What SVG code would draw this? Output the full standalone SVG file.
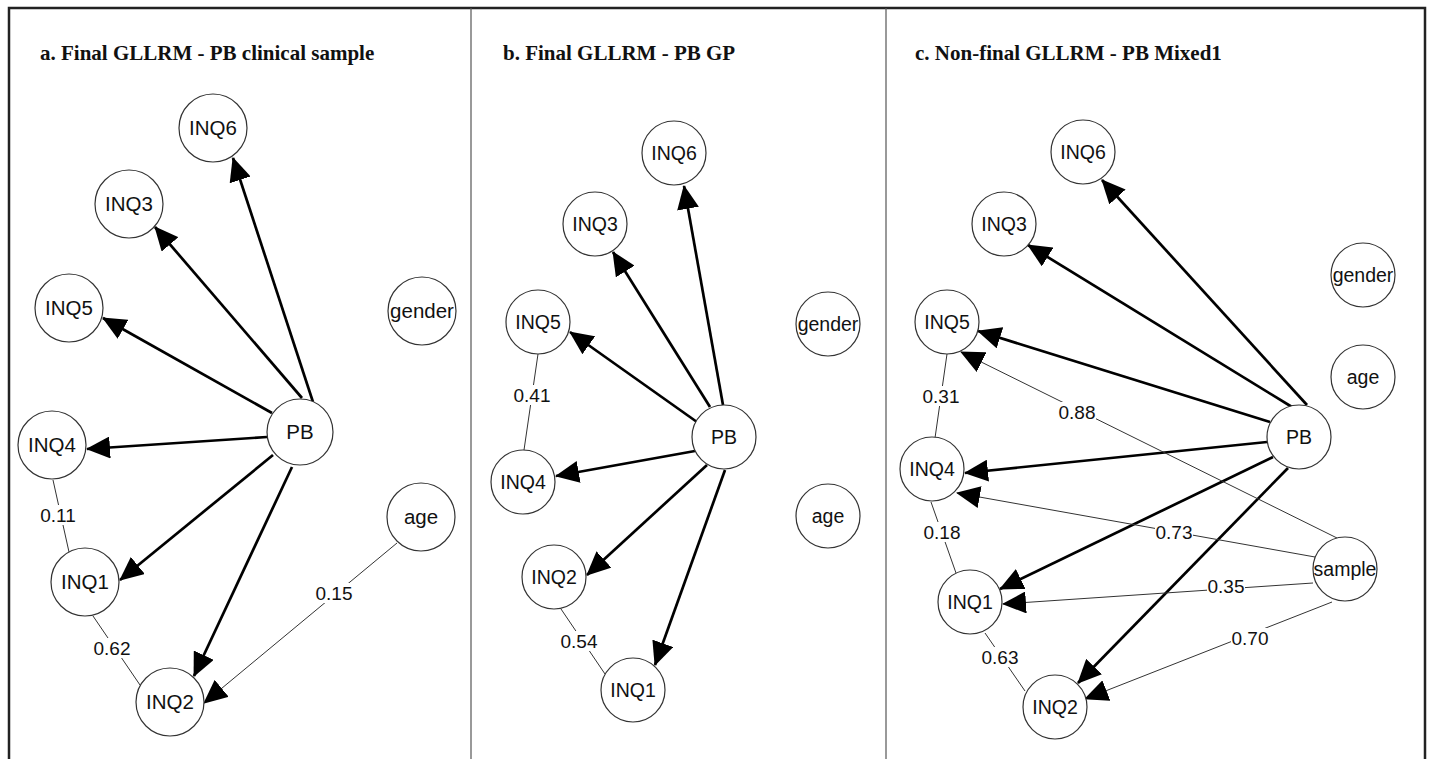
<svg xmlns="http://www.w3.org/2000/svg" width="1430" height="759" viewBox="0 0 1430 759">
<defs>
<marker id="arr" viewBox="0 0 24 22" refX="23" refY="11" markerWidth="24" markerHeight="22" orient="auto" markerUnits="userSpaceOnUse"><path d="M0,0 L24,11 L0,22 z" fill="#000"/></marker>
<style>
.frame{stroke:#222;stroke-width:2.5;fill:none}
.divider{stroke:#555;stroke-width:1.2;fill:none}
.title{font-family:"Liberation Serif","Times New Roman",serif;font-weight:bold;font-size:21px;fill:#111}
.node circle{fill:#fff;stroke:#333;stroke-width:1.2}
.node text{font-family:"Liberation Sans",Arial,sans-serif;text-anchor:middle;fill:#111}
.pa text{font-size:20.5px}
.pb text,.pc text{font-size:19.5px}
.thick{stroke:#000;stroke-width:2.7;fill:none;marker-end:url(#arr)}
.thin{stroke:#333;stroke-width:1;fill:none}
.thinarr{stroke:#333;stroke-width:1;fill:none;marker-end:url(#arr)}
.lbl rect{fill:#fff}
.lbl text{font-family:"Liberation Sans",Arial,sans-serif;font-size:19px;text-anchor:middle;fill:#111}
</style>
</defs>
<rect width="1430" height="759" fill="#fff"/>
<g id="frame">
<path class="frame" d="M9,759 V8 H1425 V759"/>
<line class="divider" x1="471" y1="8" x2="471" y2="759"/>
<line class="divider" x1="886" y1="8" x2="886" y2="759"/>
</g>
<g id="titles">
<text class="title" x="40" y="60">a. Final GLLRM - PB clinical sample</text>
<text class="title" x="503" y="60">b. Final GLLRM - PB GP</text>
<text class="title" x="915" y="60">c. Non-final GLLRM - PB Mixed1</text>
</g>
<g id="connectors">
<!-- panel a -->
<line class="thick" x1="313" y1="402" x2="233" y2="158"/>
<line class="thick" x1="302" y1="398" x2="155" y2="227"/>
<line class="thick" x1="272" y1="413" x2="103" y2="318"/>
<line class="thick" x1="267" y1="437" x2="87" y2="449"/>
<line class="thick" x1="273" y1="455" x2="120" y2="580"/>
<line class="thick" x1="292" y1="467" x2="194" y2="676"/>
<line class="thinarr" x1="397" y1="543" x2="204" y2="703"/>
<line class="thin" x1="53" y1="480" x2="69" y2="552"/>
<line class="thin" x1="93" y1="616" x2="140" y2="685"/>
<!-- panel b -->
<line class="thick" x1="723" y1="405" x2="684" y2="186"/>
<line class="thick" x1="710" y1="407" x2="613" y2="252"/>
<line class="thick" x1="697" y1="422" x2="570" y2="332"/>
<line class="thick" x1="695" y1="451" x2="556" y2="476"/>
<line class="thick" x1="707" y1="465" x2="587" y2="575"/>
<line class="thick" x1="725" y1="470" x2="655" y2="665"/>
<line class="thin" x1="538" y1="354" x2="524" y2="450"/>
<line class="thin" x1="561" y1="609" x2="605" y2="674"/>
<!-- panel c -->
<line class="thick" x1="1307" y1="405" x2="1102" y2="180"/>
<line class="thick" x1="1292" y1="407" x2="1028" y2="245"/>
<line class="thick" x1="1270" y1="422" x2="978" y2="331"/>
<line class="thick" x1="1267" y1="442" x2="965" y2="473"/>
<line class="thick" x1="1273" y1="457" x2="1000" y2="589"/>
<line class="thick" x1="1288" y1="468" x2="1078" y2="683"/>
<line class="thinarr" x1="1337" y1="538" x2="961" y2="352"/>
<line class="thinarr" x1="1315" y1="557" x2="957" y2="493"/>
<line class="thinarr" x1="1313" y1="583" x2="1003" y2="604"/>
<line class="thinarr" x1="1332" y1="602" x2="1085" y2="699"/>
<line class="thin" x1="947" y1="354" x2="935" y2="438"/>
<line class="thin" x1="931" y1="502" x2="956" y2="573"/>
<line class="thin" x1="985" y1="633" x2="1025" y2="691"/>
<!-- edge labels -->
<g class="lbl"><rect x="39" y="505" width="38" height="20"/><text x="58" y="522">0.11</text></g>
<g class="lbl"><rect x="93" y="638" width="38" height="20"/><text x="112" y="655">0.62</text></g>
<g class="lbl"><rect x="315" y="583" width="38" height="20"/><text x="334" y="600">0.15</text></g>
<g class="lbl"><rect x="513" y="385" width="38" height="20"/><text x="532" y="402">0.41</text></g>
<g class="lbl"><rect x="560" y="631" width="38" height="20"/><text x="579" y="648">0.54</text></g>
<g class="lbl"><rect x="922" y="386" width="38" height="20"/><text x="941" y="403">0.31</text></g>
<g class="lbl"><rect x="1058" y="402" width="38" height="20"/><text x="1077" y="419">0.88</text></g>
<g class="lbl"><rect x="923" y="522" width="38" height="20"/><text x="942" y="539">0.18</text></g>
<g class="lbl"><rect x="1155" y="522" width="38" height="20"/><text x="1174" y="539">0.73</text></g>
<g class="lbl"><rect x="1207" y="576" width="38" height="20"/><text x="1226" y="593">0.35</text></g>
<g class="lbl"><rect x="1231" y="628" width="38" height="20"/><text x="1250" y="645">0.70</text></g>
<g class="lbl"><rect x="981" y="647" width="38" height="20"/><text x="1000" y="664">0.63</text></g>
</g>
<!-- panel a nodes -->
<g id="a-INQ6" class="node pa"><circle cx="213" cy="128" r="34"/><text x="213" y="135">INQ6</text></g>
<g id="a-INQ3" class="node pa"><circle cx="129" cy="204" r="34"/><text x="129" y="211">INQ3</text></g>
<g id="a-INQ5" class="node pa"><circle cx="69" cy="308" r="34"/><text x="69" y="315">INQ5</text></g>
<g id="a-gender" class="node pa"><circle cx="422" cy="311" r="34"/><text x="422" y="318">gender</text></g>
<g id="a-PB" class="node pa"><circle cx="300" cy="432" r="33"/><text x="300" y="439">PB</text></g>
<g id="a-INQ4" class="node pa"><circle cx="52" cy="445" r="34"/><text x="52" y="452">INQ4</text></g>
<g id="a-age" class="node pa"><circle cx="421" cy="517" r="34"/><text x="421" y="524">age</text></g>
<g id="a-INQ1" class="node pa"><circle cx="85" cy="582" r="34"/><text x="85" y="589">INQ1</text></g>
<g id="a-INQ2" class="node pa"><circle cx="170" cy="702" r="34"/><text x="170" y="709">INQ2</text></g>
<!-- panel b nodes -->
<g id="b-INQ6" class="node pb"><circle cx="674" cy="153" r="32"/><text x="674" y="160">INQ6</text></g>
<g id="b-INQ3" class="node pb"><circle cx="595" cy="224" r="32"/><text x="595" y="231">INQ3</text></g>
<g id="b-INQ5" class="node pb"><circle cx="538" cy="322" r="32"/><text x="538" y="329">INQ5</text></g>
<g id="b-gender" class="node pb"><circle cx="828" cy="324" r="32"/><text x="828" y="331">gender</text></g>
<g id="b-PB" class="node pb"><circle cx="724" cy="437" r="32"/><text x="724" y="444">PB</text></g>
<g id="b-INQ4" class="node pb"><circle cx="523" cy="482" r="32"/><text x="523" y="489">INQ4</text></g>
<g id="b-age" class="node pb"><circle cx="828" cy="516" r="32"/><text x="828" y="523">age</text></g>
<g id="b-INQ2" class="node pb"><circle cx="554" cy="577" r="32"/><text x="554" y="584">INQ2</text></g>
<g id="b-INQ1" class="node pb"><circle cx="633" cy="690" r="32"/><text x="633" y="697">INQ1</text></g>
<!-- panel c nodes -->
<g id="c-INQ6" class="node pc"><circle cx="1083" cy="152" r="32"/><text x="1083" y="159">INQ6</text></g>
<g id="c-INQ3" class="node pc"><circle cx="1004" cy="224" r="32"/><text x="1004" y="231">INQ3</text></g>
<g id="c-gender" class="node pc"><circle cx="1363" cy="275" r="32"/><text x="1363" y="282">gender</text></g>
<g id="c-INQ5" class="node pc"><circle cx="947" cy="322" r="32"/><text x="947" y="329">INQ5</text></g>
<g id="c-age" class="node pc"><circle cx="1363" cy="377" r="32"/><text x="1363" y="384">age</text></g>
<g id="c-PB" class="node pc"><circle cx="1299" cy="437" r="32"/><text x="1299" y="444">PB</text></g>
<g id="c-INQ4" class="node pc"><circle cx="932" cy="469" r="32"/><text x="932" y="476">INQ4</text></g>
<g id="c-sample" class="node pc"><circle cx="1345" cy="569" r="32"/><text x="1345" y="576">sample</text></g>
<g id="c-INQ1" class="node pc"><circle cx="970" cy="602" r="32"/><text x="970" y="609">INQ1</text></g>
<g id="c-INQ2" class="node pc"><circle cx="1055" cy="707" r="32"/><text x="1055" y="714">INQ2</text></g>
</svg>
